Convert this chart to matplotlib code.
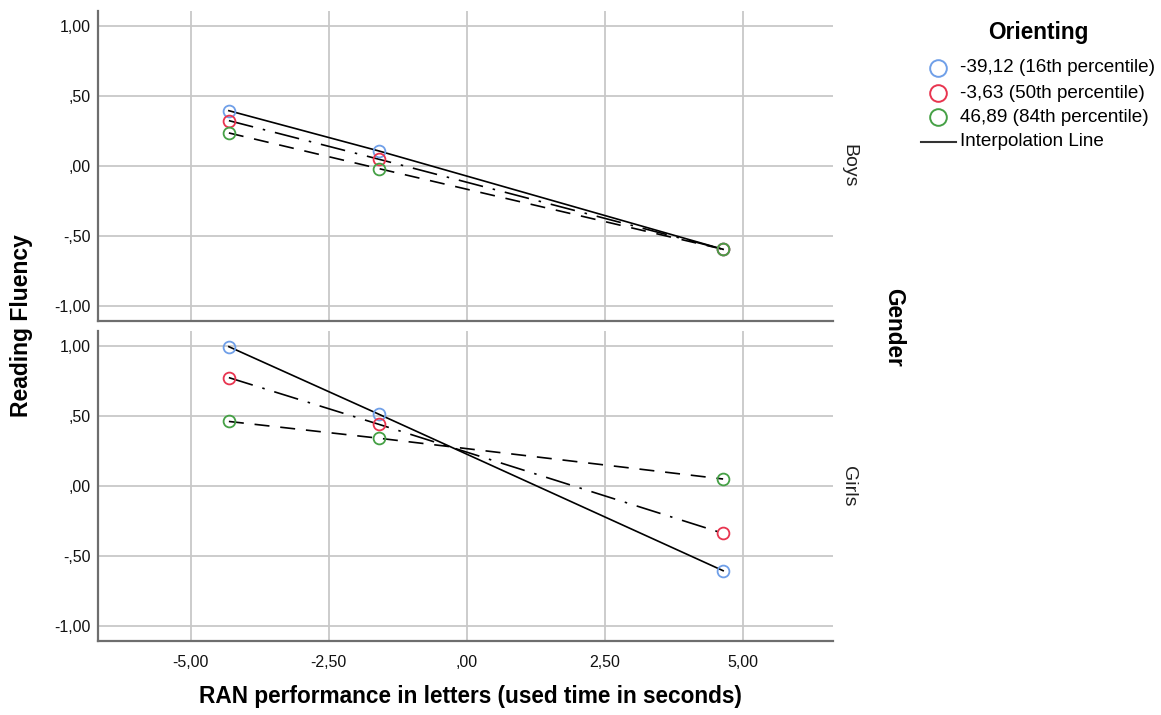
import numpy as np
import matplotlib
matplotlib.use("Agg")
import matplotlib.pyplot as plt

plt.rcParams['font.family'] = ['Liberation Sans', 'DejaVu Sans']

# RAN performance (centered) at which predictions were drawn
ran_x = [-4.31, -1.59, 4.64]

groups = ["Boys", "Girls"]
orient_labels = ["-39,12 (16th percentile)", "-3,63 (50th percentile)", "46,89 (84th percentile)"]

boys_low = [0.395, 0.107, -0.595]
boys_mid = [0.324, 0.048, -0.595]
boys_high = [0.236, -0.019, -0.595]

girls_low = [0.995, 0.512, -0.605]
girls_mid = [0.774, 0.440, -0.338]
girls_high = [0.461, 0.341, 0.050]

yticks = [1.0, 0.5, 0.0, -0.5, -1.0]
ytick_labels = ["1,00", ",50", ",00", "-,50", "-1,00"]
xticks = [-5.0, -2.5, 0.0, 2.5, 5.0]
xtick_labels = ["-5,00", "-2,50", ",00", "2,50", "5,00"]

colors = ["#6f9fe8", "#e8344f", "#45a045"]
styles = ["-", (0, (15, 6, 1.5, 6)), (0, (9, 6.5))]

W, H = 1161, 715
fig = plt.figure(figsize=(W / 100, H / 100), dpi=100)


def px_axes(x0, y0, x1, y1):
    return fig.add_axes([x0 / W, 1 - y1 / H, (x1 - x0) / W, (y1 - y0) / H])


ax_top = px_axes(98, 11, 833, 321)
ax_bot = px_axes(98, 331, 833, 641)

data = {"Boys": [boys_low, boys_mid, boys_high],
        "Girls": [girls_low, girls_mid, girls_high]}

for ax, g in zip([ax_top, ax_bot], groups):
    ax.set_xlim(-6.68, 6.63)
    ax.set_ylim(-1.107, 1.107)
    ax.set_yticks(yticks)
    ax.set_yticklabels(ytick_labels)
    ax.set_xticks(xticks)
    ax.grid(True, color="#c8c8c8", lw=1.3)
    ax.set_axisbelow(True)
    for s in ["top", "right"]:
        ax.spines[s].set_visible(False)
    for s in ["left", "bottom"]:
        ax.spines[s].set_color("#6e6e6e")
        ax.spines[s].set_linewidth(1.6)
    ax.tick_params(length=0, labelsize=11.5, pad=5, colors="#111111")
    for vals, c, ls in zip(data[g], colors, styles):
        ax.plot(ran_x, vals, color="black", lw=1.2, ls=ls, zorder=3)
        ax.plot(ran_x, vals, ls="none", marker="o", ms=8.5, mfc="none",
                mec=c, mew=1.3, zorder=4)
    ax.text(1.021, 0.5, g, transform=ax.transAxes, rotation=270,
            ha="center", va="center", fontsize=14, color="#222222")

ax_top.set_xticklabels([])
ax_bot.set_xticklabels(xtick_labels)
ax_bot.tick_params(axis="x", pad=10)

fig.text(22 / W, 1 - 326 / H, "Reading Fluency", rotation=90, ha="center",
         va="center", fontsize=16.5, fontweight="bold")
fig.text(470 / W, 1 - 697 / H, "RAN performance in letters (used time in seconds)",
         ha="center", va="center", fontsize=16.3, fontweight="bold")
fig.text(894 / W, 1 - 327 / H, "Gender", rotation=270, ha="center",
         va="center", fontsize=16.3, fontweight="bold")

# legend drawn in pixel space on an overlay
ax_leg = fig.add_axes([0, 0, 1, 1])
ax_leg.set_xlim(0, W)
ax_leg.set_ylim(H, 0)
ax_leg.axis("off")
ax_leg.text(1038, 33, "Orienting", ha="center", va="center",
            fontsize=16.3, fontweight="bold")
row_y = [68, 93, 117]
for yy, c, lab in zip(row_y, colors, orient_labels):
    ax_leg.plot([938], [yy], ls="none", marker="o", ms=12, mfc="none", mec=c, mew=1.4)
    ax_leg.text(960, yy, lab, ha="left", va="center", fontsize=13.6)
ax_leg.plot([921, 956], [142, 142], color="#333333", lw=1.5)
ax_leg.text(960, 142, "Interpolation Line", ha="left", va="center", fontsize=13.6)

fig.savefig("out.png", dpi=100)
